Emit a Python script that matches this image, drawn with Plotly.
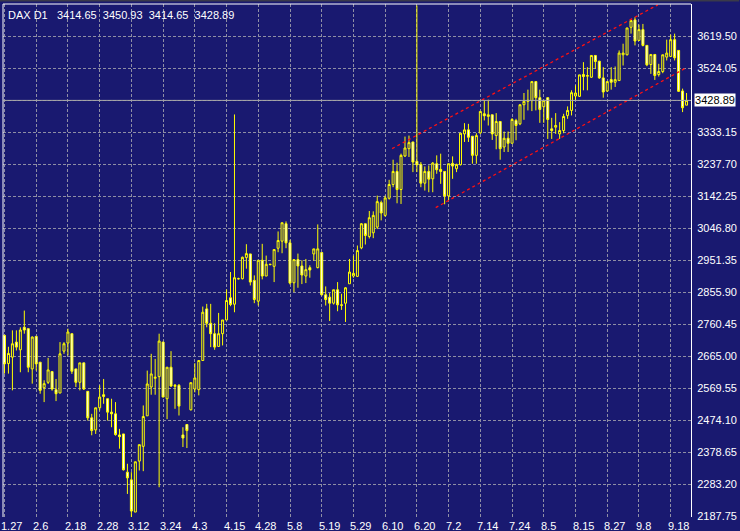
import plotly.graph_objects as go

# ---------------- data (DAX daily, 27 Jan - 24 Sep 2003) ----------------
opens = [2728, 2644, 2663, 2708, 2685, 2752, 2748, 2628, 2725, 2648,
         2572, 2588, 2620, 2566, 2556, 2681, 2705, 2733, 2628, 2588,
         2646, 2561, 2482, 2446, 2512, 2551, 2539, 2499, 2494, 2431,
         2434, 2320, 2297, 2201, 2353, 2397, 2488, 2574, 2600, 2605,
         2708, 2539, 2633, 2576, 2579, 2431, 2462, 2506, 2568, 2566,
         2653, 2807, 2764, 2733, 2695, 2733, 2774, 2840, 2821, 2897,
         2897, 2960, 2971, 2892, 2830, 2952, 2905, 2939, 2934, 2988,
         3009, 3061, 3004, 2885, 2954, 2935, 2905, 2930, 2971, 2930,
         2975, 2849, 2842, 2824, 2864, 2819, 2824, 2882, 2905, 2904,
         2989, 3061, 3023, 3034, 3051, 3124, 3086, 3137, 3178, 3217,
         3163, 3263, 3285, 3305, 3247, 3238, 3182, 3217, 3195, 3240,
         3223, 3217, 3144, 3241, 3225, 3237, 3329, 3341, 3322, 3265,
         3332, 3389, 3381, 3386, 3324, 3366, 3290, 3316, 3301, 3369,
         3359, 3416, 3426, 3428, 3485, 3437, 3410, 3437, 3344, 3349,
         3329, 3339, 3384, 3399, 3442, 3441, 3506, 3501, 3498, 3563,
         3546, 3496, 3457, 3491, 3483, 3488, 3565, 3565, 3647, 3669,
         3608, 3640, 3593, 3536, 3566, 3506, 3515, 3558, 3560, 3610,
         3578, 3457, 3414.65]
highs = [2730, 2694, 2743, 2743, 2752, 2802, 2748, 2725, 2725, 2648,
         2594, 2661, 2620, 2598, 2708, 2708, 2748, 2733, 2628, 2646,
         2646, 2561, 2494, 2512, 2579, 2598, 2539, 2539, 2529, 2449,
         2434, 2345, 2320, 2351, 2402, 2519, 2623, 2673, 2658, 2733,
         2708, 2633, 2681, 2583, 2583, 2454, 2462, 2587, 2645, 2653,
         2814, 2822, 2822, 2764, 2795, 2774, 2865, 2917, 3387, 2900,
         2963, 3000, 2971, 2907, 2952, 3001, 2966, 2941, 2984, 3038,
         3064, 3068, 3013, 2954, 2972, 2952, 2956, 2937, 2986, 3059,
         2975, 2874, 2854, 2864, 2887, 2852, 2872, 2956, 2966, 2996,
         3063, 3061, 3099, 3098, 3145, 3130, 3145, 3192, 3252, 3243,
         3270, 3321, 3324, 3305, 3712, 3245, 3232, 3235, 3245, 3265,
         3270, 3217, 3240, 3262, 3240, 3331, 3361, 3359, 3322, 3331,
         3396, 3429, 3431, 3386, 3391, 3366, 3336, 3336, 3376, 3374,
         3416, 3451, 3461, 3485, 3485, 3461, 3430, 3437, 3377, 3391,
         3364, 3389, 3411, 3459, 3474, 3505, 3543, 3528, 3563, 3563,
         3546, 3528, 3485, 3528, 3530, 3578, 3598, 3645, 3667, 3677,
         3655, 3657, 3593, 3566, 3566, 3538, 3565, 3610, 3625, 3628,
         3578, 3464, 3450.93]
lows = [2614, 2614, 2564, 2683, 2618, 2733, 2618, 2584, 2623, 2554,
        2529, 2583, 2563, 2532, 2556, 2673, 2668, 2613, 2574, 2564,
        2565, 2474, 2430, 2434, 2504, 2524, 2474, 2454, 2429, 2390,
        2325, 2255, 2186, 2201, 2325, 2323, 2488, 2551, 2551, 2275,
        2544, 2478, 2574, 2509, 2489, 2395, 2392, 2504, 2558, 2549,
        2653, 2752, 2693, 2685, 2695, 2698, 2774, 2815, 2797, 2895,
        2895, 2927, 2877, 2824, 2817, 2895, 2905, 2937, 2887, 2976,
        2973, 2988, 2880, 2857, 2870, 2881, 2884, 2900, 2951, 2928,
        2847, 2817, 2771, 2820, 2800, 2804, 2768, 2882, 2900, 2902,
        2985, 2999, 3017, 3018, 3045, 3071, 3082, 3133, 3170, 3122,
        3120, 3260, 3260, 3215, 3215, 3170, 3160, 3155, 3155, 3210,
        3180, 3119, 3130, 3195, 3215, 3235, 3305, 3305, 3240, 3240,
        3329, 3369, 3354, 3311, 3283, 3252, 3275, 3275, 3301, 3310,
        3355, 3371, 3399, 3397, 3399, 3362, 3362, 3314, 3314, 3329,
        3314, 3331, 3374, 3384, 3429, 3439, 3459, 3459, 3496, 3523,
        3493, 3437, 3454, 3461, 3469, 3488, 3533, 3563, 3628, 3593,
        3606, 3590, 3531, 3508, 3490, 3500, 3510, 3548, 3558, 3548,
        3454, 3394, 3414.65]
closes = [2643, 2674, 2703, 2693, 2744, 2744, 2633, 2723, 2643, 2564,
          2584, 2625, 2568, 2554, 2673, 2703, 2738, 2621, 2588, 2646,
          2568, 2482, 2444, 2512, 2544, 2546, 2499, 2494, 2432, 2426,
          2327, 2303, 2204, 2351, 2402, 2486, 2583, 2613, 2603, 2711,
          2544, 2633, 2577, 2579, 2517, 2422, 2444, 2587, 2601, 2653,
          2797, 2764, 2733, 2693, 2733, 2774, 2832, 2820, 2900, 2897,
          2961, 2972, 2887, 2835, 2952, 2905, 2940, 2940, 2984, 3011,
          3064, 3004, 2884, 2954, 2935, 2908, 2924, 2923, 2986, 2986,
          2849, 2835, 2824, 2864, 2819, 2818, 2870, 2917, 2913, 2981,
          3061, 3026, 3079, 3086, 3127, 3093, 3138, 3178, 3217, 3163,
          3265, 3287, 3303, 3245, 3237, 3182, 3217, 3194, 3242, 3222,
          3217, 3144, 3240, 3233, 3238, 3331, 3341, 3319, 3265, 3324,
          3396, 3383, 3386, 3329, 3366, 3285, 3316, 3301, 3372, 3354,
          3416, 3426, 3429, 3485, 3437, 3402, 3429, 3372, 3339, 3354,
          3339, 3381, 3399, 3452, 3451, 3505, 3500, 3503, 3563, 3545,
          3496, 3454, 3485, 3483, 3491, 3570, 3570, 3645, 3667, 3606,
          3640, 3593, 3535, 3566, 3503, 3515, 3565, 3570, 3610, 3556,
          3456, 3407, 3428.89]

# date labels on the time axis (bar index of each label)
date_labels = ["1.27", "2.6", "2.18", "2.28", "3.12", "3.24", "4.3", "4.15",
               "4.28", "5.8", "5.19", "5.29", "6.10", "6.20", "7.2", "7.14",
               "7.24", "8.5", "8.15", "8.27", "9.8", "9.18"]
date_positions = [0, 8, 16, 24, 32, 40, 48, 56, 64, 72, 80, 88, 96, 104,
                  112, 120, 128, 136, 144, 152, 160, 168]

# price scale labels (the 3428.60 level is hidden under the current-price tag)
price_ticks = [3619.50, 3524.05, 3428.60, 3333.15, 3237.70, 3142.25, 3046.80,
               2951.35, 2855.90, 2760.45, 2665.00, 2569.55, 2474.10, 2378.65,
               2283.20, 2187.75]
price_tick_labels = ["3619.50", "3524.05", "", "3333.15", "3237.70", "3142.25",
                     "3046.80", "2951.35", "2855.90", "2760.45", "2665.00",
                     "2569.55", "2474.10", "2378.65", "2283.20", "2187.75"]

# drawn equidistant channel (red dashed)
channel_upper_x = [97.75, 164.75]
channel_upper_y = [3285, 3714]
channel_lower_x = [108.75, 172]
channel_lower_y = [3109, 3527]

symbol = "DAX D1"
last_open, last_high, last_low, last_close = 3414.65, 3450.93, 3414.65, 3428.89

# ---------------- styling ----------------
BG = "#191970"
CANDLE = "#ffff00"
GRID = "#8e8ea4"
FONT = "Liberation Sans Narrow, Arial Narrow, Liberation Sans, Arial, sans-serif"
NB = "\u00a0"

bar_index = list(range(len(opens)))

fig = go.Figure()
fig.add_trace(go.Candlestick(
    x=bar_index, open=opens, high=highs, low=lows, close=closes,
    increasing=dict(line=dict(color=CANDLE, width=1), fillcolor=BG),
    decreasing=dict(line=dict(color=CANDLE, width=1), fillcolor="#ffffff"),
    whiskerwidth=0, hoverinfo="skip", showlegend=False))

for cx, cy in ((channel_upper_x, channel_upper_y), (channel_lower_x, channel_lower_y)):
    fig.add_trace(go.Scatter(x=cx, y=cy, mode="lines", hoverinfo="skip",
                             showlegend=False,
                             line=dict(color="#ff1010", width=1.3, dash="3px,3px")))

fig.update_layout(
    width=740, height=531,
    margin=dict(l=3, r=43, t=4, b=14),
    paper_bgcolor=BG, plot_bgcolor=BG,
    showlegend=False,
    boxgap=0.5, boxgroupgap=0,
    xaxis=dict(range=[-0.375, 173.125], tickvals=date_positions, showticklabels=False,
               showgrid=True, gridcolor=GRID, griddash="3px,2px", gridwidth=1,
               zeroline=False, showline=False, ticks="",
               rangeslider=dict(visible=False), fixedrange=True),
    yaxis=dict(side="right", range=[2186.26, 3716.44], tickvals=price_ticks,
               ticktext=price_tick_labels, showgrid=True, gridcolor=GRID,
               griddash="3px,2px", gridwidth=1, zeroline=False,
               showline=True, linecolor="#ffffff", linewidth=1, ticks="",
               ticklabelstandoff=3,
               tickfont=dict(color="#ffffff", size=11, family=FONT),
               fixedrange=True),
)

# window strip above the chart
fig.add_shape(type="rect", xref="paper", yref="paper", x0=-0.01, x1=1.07,
              y0=1 + 2.5 / 513, y1=1 + 5 / 513, line=dict(width=0),
              fillcolor="#3a3a4a", layer="above")

# frame (left and top edges)
fig.add_shape(type="line", xref="paper", yref="paper", x0=0, x1=0, y0=0, y1=1,
              line=dict(color="#ffffff", width=1))
fig.add_shape(type="line", xref="paper", yref="paper", x0=0, x1=1, y0=1, y1=1,
              line=dict(color="#ffffff", width=1))

# current price line
fig.add_shape(type="line", xref="paper", yref="y", x0=0, x1=1,
              y0=last_close, y1=last_close, line=dict(color="#a8a8a8", width=1))

# current price label box
fig.add_annotation(x=1, y=last_close, xref="paper", yref="y", xanchor="left",
                   yanchor="middle", xshift=3, text="%.2f" % last_close,
                   showarrow=False, bgcolor="#ffffff", borderpad=0,
                   width=40, height=12, align="center",
                   font=dict(color="#000000", size=11, family=FONT))

# date labels
for pos, lab in zip(date_positions, date_labels):
    fig.add_annotation(x=pos, y=0, xref="x", yref="paper", text=lab,
                       showarrow=False, xanchor="left", yanchor="top",
                       xshift=-5, yshift=-1,
                       font=dict(color="#ffffff", size=11, family=FONT))

# symbol / OHLC caption
caption = (symbol + NB * 3 + ("%.2f" % last_open) + NB * 2 + ("%.2f" % last_high)
           + NB * 2 + ("%.2f" % last_low) + NB * 2 + ("%.2f" % last_close))
fig.add_annotation(x=0, y=1, xref="paper", yref="paper", xanchor="left",
                   yanchor="top", xshift=3, yshift=-3, text=caption,
                   showarrow=False, font=dict(color="#ffffff", size=11, family=FONT))

fig.write_html("out.html", config={"displayModeBar": False},
               post_script="document.body.style.margin='0';"
                           "document.body.style.background='" + BG + "';")
